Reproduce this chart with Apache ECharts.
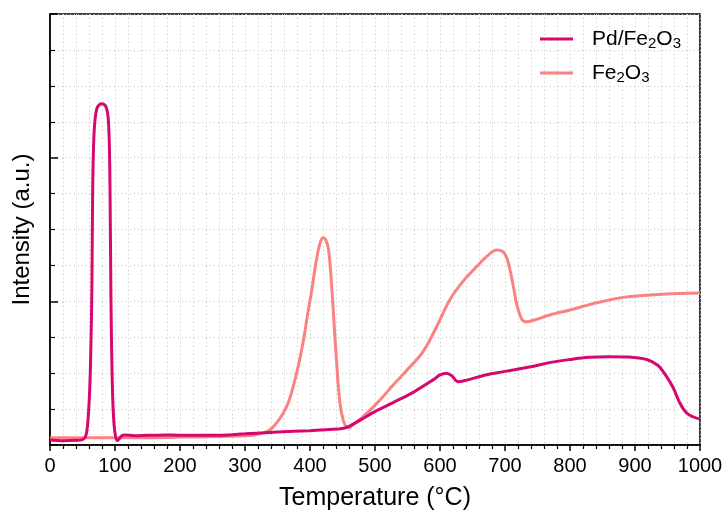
<!DOCTYPE html>
<html>
<head>
<meta charset="utf-8">
<script src="https://cdn.jsdelivr.net/npm/echarts@6/dist/echarts.min.js"></script>
<style>
  html, body { margin: 0; padding: 0; background: #fff; }
  #chart { width: 726px; height: 512px; }
</style>
</head>
<body>
<div id="chart"></div>
<script>
// series names
var seriesNames = ['Pd/Fe2O3', 'Fe2O3'];

// Pd/Fe2O3 : [temperature °C, intensity a.u.]
var pdData = [
  [0, 0.14], [20, 0.12], [40, 0.13], [50, 0.15], [55, 0.25], [58, 0.6], [61, 1.5], [63, 2.8],
  [64.5, 4.5], [65.6, 7.0], [67, 8.3], [69, 9.0], [72.8, 9.4], [79.5, 9.5], [86, 9.42],
  [89.5, 9.1], [91.5, 8.2], [92.5, 6.8], [93.8, 4.0], [95.5, 2.0], [97.4, 0.9], [100, 0.33],
  [103.5, 0.12], [106, 0.16], [110, 0.25], [115, 0.28], [130, 0.26], [150, 0.27], [180, 0.28],
  [200, 0.27], [250, 0.27], [300, 0.31], [350, 0.36], [400, 0.4], [430, 0.43], [450, 0.46],
  [460, 0.52], [480, 0.72], [500, 0.93], [530, 1.2], [560, 1.48], [590, 1.82], [600, 1.95],
  [610, 2.0], [618, 1.93], [628, 1.76], [640, 1.8], [670, 1.95], [700, 2.05], [740, 2.18],
  [770, 2.3], [800, 2.38], [830, 2.44], [860, 2.46], [890, 2.45], [918, 2.38], [935, 2.22],
  [945, 2.0], [958, 1.62], [969, 1.17], [979, 0.9], [990, 0.78], [1000, 0.72]
];

// Fe2O3 : [temperature °C, intensity a.u.]
var feData = [
  [0, 0.2], [100, 0.2], [200, 0.22], [300, 0.26], [320, 0.3], [338, 0.42], [350, 0.65],
  [359, 0.89], [367, 1.2], [374, 1.62], [382, 2.2], [390, 2.92], [396, 3.6], [402.6, 4.3],
  [408, 4.95], [413, 5.45], [417, 5.7], [420.5, 5.77], [424, 5.72], [428, 5.5], [431, 5.0],
  [433, 4.5], [436, 3.7], [438, 3.1], [441, 2.3], [443.6, 1.62], [447, 1.05], [451, 0.7],
  [455, 0.52], [459, 0.47], [465, 0.55], [482, 0.79], [505, 1.2], [528, 1.67], [550, 2.1],
  [574, 2.6], [595, 3.3], [615, 4.04], [635, 4.55], [656, 4.96], [672, 5.25], [687, 5.43],
  [697, 5.38], [703, 5.2], [708, 4.85], [713, 4.4], [717, 4.0], [720.5, 3.76], [726, 3.5],
  [733, 3.43], [745, 3.48], [769, 3.62], [800, 3.76], [841, 3.96], [882, 4.11], [943, 4.2],
  [1000, 4.23]
];

var colors = ['#d4086f', '#fb8282'];

var myChart = echarts.init(document.getElementById('chart'));

var font = 'Liberation Sans, Arial, sans-serif';
var dotted = { color: '#c4c4c4', width: 1, type: [1, 3] };

var option = {
  animation: false,
  textStyle: { fontFamily: font },
  grid: {
    left: 50, right: 26, top: 14, bottom: 67,
    outerBoundsMode: 'none',
    containLabel: false,
    show: true, borderColor: '#000', borderWidth: 1.5
  },
  legend: {
    data: seriesNames,
    orient: 'vertical',
    left: 535,
    top: 22,
    icon: 'rect',
    itemWidth: 33,
    itemHeight: 3,
    itemGap: 10,
    formatter: function (name) {
      if (name === 'Pd/Fe2O3') {
        return '{n|Pd/Fe}{s|2}{n|O}{s|3}';
      }
      return '{n|Fe}{s|2}{n|O}{s|3}';
    },
    textStyle: {
      padding: [0, 0, 0, 14],
      rich: {
        n: { fontSize: 21, color: '#000', fontFamily: font, lineHeight: 24 },
        s: { fontSize: 15, color: '#000', fontFamily: font, lineHeight: 24, padding: [9, 0, 0, 0] }
      }
    }
  },
  xAxis: {
    type: 'value',
    min: 0,
    max: 1000,
    interval: 100,
    name: 'Temperature (°C)',
    nameLocation: 'middle',
    nameGap: 41,
    nameTextStyle: { fontSize: 25, color: '#000', fontFamily: font },
    axisLine: { show: true, lineStyle: { color: '#000', width: 1.5 } },
    axisTick: { show: true, inside: false, length: 6, lineStyle: { color: '#000', width: 1.5 } },
    minorTick: { show: true, splitNumber: 5, length: 4, lineStyle: { color: '#000', width: 1.2 } },
    axisLabel: {
      fontSize: 20, color: '#000', margin: 11, fontFamily: font,
      formatter: function (v) { return String(v); }
    },
    splitLine: { show: true, lineStyle: dotted },
    minorSplitLine: { show: true, lineStyle: dotted }
  },
  yAxis: {
    type: 'value',
    min: 0,
    max: 12,
    interval: 4,
    name: 'Intensity (a.u.)',
    nameLocation: 'middle',
    nameGap: 16,
    nameTextStyle: { fontSize: 24, color: '#000', fontFamily: font },
    axisLine: { show: true, lineStyle: { color: '#000', width: 1.5 } },
    axisTick: { show: true, inside: true, length: 8, lineStyle: { color: '#000', width: 1.5 } },
    minorTick: { show: true, splitNumber: 4, length: 5, lineStyle: { color: '#000', width: 1.2 } },
    axisLabel: { show: false },
    splitLine: { show: true, lineStyle: dotted },
    minorSplitLine: { show: true, lineStyle: dotted }
  },
  series: [
    {
      name: seriesNames[0],
      type: 'line',
      data: pdData,
      symbol: 'none',
      smooth: 0.35,
      z: 3,
      itemStyle: { color: colors[0] },
      lineStyle: { color: colors[0], width: 3 }
    },
    {
      name: seriesNames[1],
      type: 'line',
      data: feData,
      symbol: 'none',
      smooth: 0.35,
      z: 2,
      itemStyle: { color: colors[1] },
      lineStyle: { color: colors[1], width: 3 }
    }
  ]
};

myChart.setOption(option);
</script>
</body>
</html>
